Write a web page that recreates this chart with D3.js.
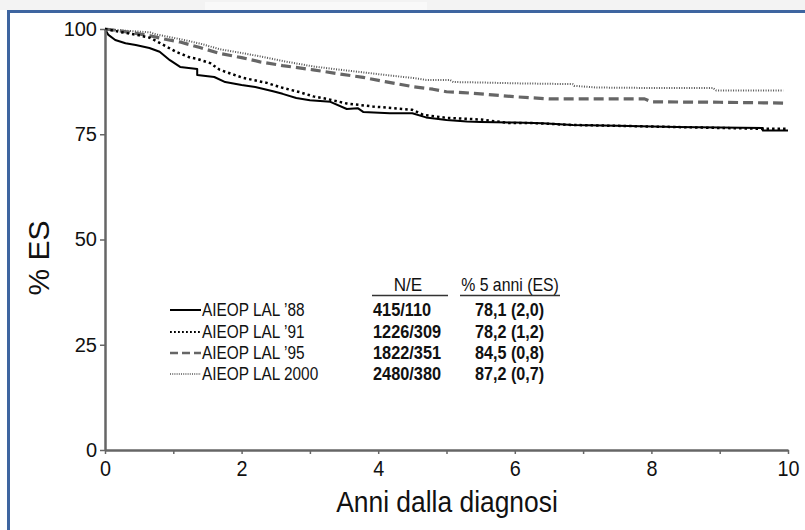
<!DOCTYPE html>
<html>
<head>
<meta charset="utf-8">
<script src="https://cdn.jsdelivr.net/npm/d3@7"></script>
<style>
  html, body { margin: 0; background: #fff; overflow: hidden; }
  svg { display: block; overflow: hidden; }
</style>
</head>
<body>
<svg id="chart" width="805" height="530"></svg>
<script>
// survival curves (years, % ES)
const years88 = [0, 0.05, 0.15, 0.3, 0.45, 0.65, 0.8, 0.95, 1.1, 1.35, 1.35, 1.6, 1.76, 2.0, 2.2, 2.46, 2.6, 2.8, 3.0, 3.3, 3.54, 3.7, 3.78, 4.17, 4.5, 4.7, 5.0, 5.3, 5.5, 6.0, 6.4, 6.85, 7.5, 8.37, 9.0, 9.63, 9.63, 10.0];
const es88    = [100, 98.6, 97.4, 96.6, 96.2, 95.5, 94.6, 92.6, 91.0, 90.5, 89.1, 88.6, 87.4, 86.7, 86.2, 85.2, 84.6, 83.6, 83.1, 82.7, 81.0, 81.2, 80.3, 80.0, 80.0, 79.0, 78.4, 78.0, 77.9, 77.8, 77.6, 77.2, 77.0, 76.7, 76.6, 76.5, 75.9, 75.9];

const years91 = [0, 0.22, 0.5, 0.66, 0.8, 1.05, 1.25, 1.35, 1.54, 1.68, 2.02, 2.37, 2.56, 2.85, 3.05, 3.25, 3.54, 3.92, 4.5, 4.66, 5.0, 5.5, 5.9, 6.2, 6.85, 7.5, 8.4, 9.0, 9.63, 10.0];
const es91    = [100, 99.3, 98.5, 97.9, 96.7, 94.5, 93.2, 92.9, 91.9, 90.3, 88.4, 87.2, 86.2, 85.0, 84.0, 83.4, 82.3, 81.6, 80.8, 79.6, 78.9, 78.5, 77.7, 77.7, 77.2, 77.0, 76.7, 76.5, 76.3, 76.3];

const years95 = [0, 0.2, 0.4, 0.66, 0.9, 1.1, 1.39, 1.68, 2.0, 2.27, 2.6, 3.05, 3.4, 3.78, 4.1, 4.51, 4.8, 5.0, 5.24, 5.5, 6.0, 6.5, 7.9, 8.0, 9.0, 10.0];
const es95    = [100, 99.6, 99.1, 98.4, 97.5, 96.9, 95.6, 94.2, 93.2, 92.2, 91.3, 90.3, 89.4, 88.5, 87.5, 86.3, 85.7, 85.1, 84.9, 84.6, 83.9, 83.4, 83.4, 82.7, 82.6, 82.4];

const years2000 = [0, 0.3, 0.66, 0.75, 1.1, 1.4, 1.68, 2.0, 2.27, 2.6, 3.05, 3.4, 3.78, 4.2, 4.5, 4.7, 5.05, 5.1, 5.5, 6.0, 6.85, 6.87, 7.2, 7.9, 8.9, 8.95, 9.93];
const es2000    = [100, 99.6, 99.2, 98.7, 97.6, 96.5, 95.2, 94.3, 93.5, 92.4, 91.1, 90.4, 89.7, 88.9, 88.4, 87.9, 87.9, 87.4, 87.3, 87.1, 86.9, 86.5, 86.1, 86.0, 86.0, 85.4, 85.4];

const seriesNames = ["AIEOP LAL \u201988", "AIEOP LAL \u201991", "AIEOP LAL \u201995", "AIEOP LAL 2000"];
const neValues = ["415/110", "1226/309", "1822/351", "2480/380"];
const esValues = ["78,1 (2,0)", "78,2 (1,2)", "84,5 (0,8)", "87,2 (0,7)"];

const xTicks = [0, 1, 2, 3, 4, 5, 6, 7, 8, 9, 10];
const yTicks = [0, 25, 50, 75, 100];

const width = 805, height = 530;
const margin = { top: 29, right: 17, bottom: 80, left: 105 };
const font = '"Liberation Sans", Arial, Helvetica, sans-serif';

const styles = [
  { stroke: '#000', width: 2, dash: null, legendDash: null, legendWidth: 2 },
  { stroke: '#000', width: 2.5, dash: '2.5,3', legendDash: '1.8,2.2', legendWidth: 2 },
  { stroke: '#666', width: 3.2, dash: '10,5', legendDash: '8,4', legendWidth: 2.5 },
  { stroke: '#555', width: 2, dash: '1,1.5', legendDash: '1,1.2', legendWidth: 1.5 }
];

const series = [
  years88.map((t, i) => [t, es88[i]]),
  years91.map((t, i) => [t, es91[i]]),
  years95.map((t, i) => [t, es95[i]]),
  years2000.map((t, i) => [t, es2000[i]])
];

const svg = d3.select('#chart');

// condensed look: regular font squeezed horizontally
function narrowText(g, px, py, txt, size, sx, anchor, weight) {
  return g.append('text')
    .attr('transform', `translate(${px},${py}) scale(${sx},1)`)
    .attr('text-anchor', anchor || 'start')
    .attr('font-family', font)
    .attr('font-size', size)
    .attr('font-weight', weight || 'normal')
    .attr('fill', '#111')
    .text(txt);
}

// frame + faint shadow on top
svg.append('rect').attr('x', 0).attr('y', 0).attr('width', width).attr('height', 10).attr('fill', '#f3f3f3');
svg.append('rect').attr('x', 205).attr('y', 2).attr('width', 222).attr('height', 8).attr('fill', '#f9f9f9');
svg.append('rect')
  .attr('x', 8.5).attr('y', 11.5).attr('width', 900).attr('height', 600)
  .attr('fill', '#fff').attr('stroke', '#3e65a0').attr('stroke-width', 3);

const x = d3.scaleLinear().domain([0, 10]).range([margin.left, width - margin.right]);
const y = d3.scaleLinear().domain([0, 100]).range([height - margin.bottom, margin.top]);

const line = d3.line().x(d => x(d[0])).y(d => y(d[1]));

// curves, drawn back to front
[3, 2, 1, 0].forEach(i => {
  svg.append('path')
    .datum(series[i])
    .attr('fill', 'none')
    .attr('stroke', styles[i].stroke)
    .attr('stroke-width', styles[i].width)
    .attr('stroke-dasharray', styles[i].dash)
    .attr('stroke-linejoin', 'round')
    .attr('d', line);
});

// axes
const xAxis = svg.append('g')
  .attr('transform', `translate(0,${y(0)})`)
  .call(d3.axisBottom(x).tickValues(xTicks).tickSize(4).tickSizeOuter(0)
    .tickFormat(d => d % 2 === 0 ? d : ''));
xAxis.selectAll('.tick text').remove();
xAxis.selectAll('.tick').filter(d => d % 2 === 0).each(function (d) {
  narrowText(d3.select(this), 0, 26, d, 22, 0.9, 'middle');
});

const yAxis = svg.append('g')
  .attr('transform', `translate(${x(0)},0)`)
  .call(d3.axisLeft(y).tickValues(yTicks).tickSize(5).tickSizeOuter(0).tickPadding(3));
yAxis.selectAll('text').attr('font-family', font).attr('font-size', 20).attr('fill', '#111');

svg.selectAll('.domain').attr('stroke', '#666').attr('stroke-width', 2.5);
svg.selectAll('.tick line').attr('stroke', '#666').attr('stroke-width', 1.5);

// axis titles
svg.append('text')
  .attr('transform', 'translate(38,258) rotate(-90)')
  .attr('text-anchor', 'middle').attr('dominant-baseline', 'central')
  .attr('font-family', font).attr('font-size', 30).attr('fill', '#111')
  .text('% ES');

narrowText(svg, 447, 512, 'Anni dalla diagnosi', 30, 0.88, 'middle');

// legend table
const rowY = [316, 338, 359, 380];
const legend = svg.append('g');

narrowText(legend, 408, 291, 'N/E', 19, 0.9, 'middle');
narrowText(legend, 510, 291, '% 5 anni (ES)', 18, 0.88, 'middle');
legend.append('line').attr('x1', 372).attr('x2', 448).attr('y1', 295.5).attr('y2', 295.5)
  .attr('stroke', '#333').attr('stroke-width', 1.5);
legend.append('line').attr('x1', 460).attr('x2', 560).attr('y1', 295.5).attr('y2', 295.5)
  .attr('stroke', '#333').attr('stroke-width', 1.5);

seriesNames.forEach((name, i) => {
  legend.append('line')
    .attr('x1', 170).attr('x2', 201).attr('y1', rowY[i] - 6).attr('y2', rowY[i] - 6)
    .attr('stroke', styles[i].stroke)
    .attr('stroke-width', styles[i].legendWidth)
    .attr('stroke-dasharray', styles[i].legendDash);
  narrowText(legend, 202, rowY[i], name, 19, 0.81);
  narrowText(legend, 373, rowY[i], neValues[i], 19, 0.86, 'start', 'bold');
  narrowText(legend, 475, rowY[i], esValues[i], 19, 0.85, 'start', 'bold');
});
</script>
</body>
</html>
